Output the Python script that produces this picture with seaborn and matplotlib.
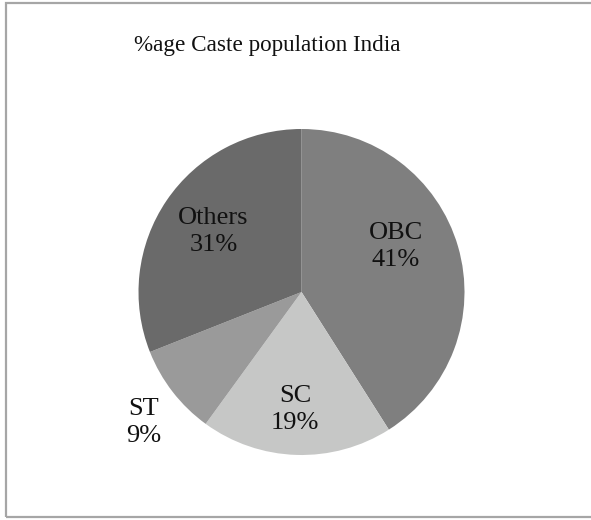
import matplotlib
matplotlib.use("Agg")
import matplotlib.pyplot as plt
import seaborn as sns
from matplotlib.patches import Rectangle

# Share of population by caste group in India
categories = ["OBC", "SC", "ST", "Others"]
shares = [41, 19, 9, 31]
colors = ["#7f7f7f", "#c6c7c6", "#9a9a9a", "#6a6a6a"]
title = "%age Caste population India"

sns.set_theme(style="white")
plt.rcParams["font.family"] = ["Liberation Serif", "DejaVu Serif"]

W, H = 591, 520
fig = plt.figure(figsize=(W / 100, H / 100), dpi=100)
fig.patch.set_facecolor("white")

# Chart-area frame (open on the right)
frame = Rectangle((6 / W, 3 / H), 1.2, (517 - 3) / H, transform=fig.transFigure,
                  fill=False, edgecolor="#a6a6a6", linewidth=1.6)
fig.patches.append(frame)

fig.text(267 / W, 1 - 46 / H, title, ha="center", va="center",
         fontsize=16.7, color="#111111")

cx, cy, r = 301.5, 292, 163
ax = fig.add_axes([(cx - r) / W, (H - cy - r) / H, 2 * r / W, 2 * r / H])
ax.pie(shares, colors=sns.color_palette(colors), startangle=90,
       counterclock=False, radius=1.0,
       wedgeprops=dict(linewidth=0))
ax.set_xlim(-1, 1)
ax.set_ylim(-1, 1)
ax.set_aspect("equal")
ax.axis("off")

label_pos = {"OBC": (0.58, 0.28), "SC": (-0.04, -0.72),
             "ST": (-0.97, -0.80), "Others": (-0.54, 0.37)}
for name, val in zip(categories, shares):
    x, y = label_pos[name]
    ax.text(x, y, f"{name}\n{val}%", ha="center", va="center",
            fontsize=19, color="#111111", linespacing=1.33, clip_on=False)

fig.savefig("out.png", dpi=100)
